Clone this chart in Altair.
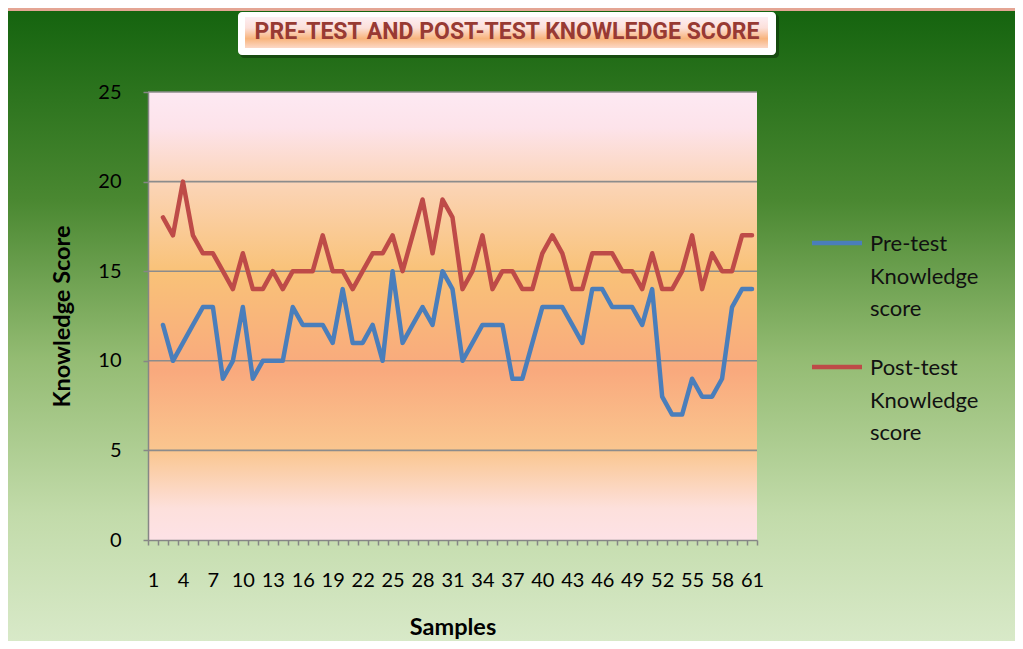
import altair as alt
import pandas as pd

# ---------------- data ----------------
TITLE = "PRE-TEST AND POST-TEST KNOWLEDGE SCORE"
X_TITLE = "Samples"
Y_TITLE = "Knowledge Score"
SERIES = ["Pre-test Knowledge score", "Post-test Knowledge score"]
SAMPLES = list(range(1, 62))
PRE = [None,
       12, 10, 11, 12, 13, 13, 9, 10, 13, 9,
       10, 10, 10, 13, 12, 12, 12, 11, 14, 11,
       11, 12, 10, 15, 11, 12, 13, 12, 15, 14,
       10, 11, 12, 12, 12, 9, 9, 11, 13, 13,
       13, 12, 11, 14, 14, 13, 13, 13, 12, 14,
       8, 7, 7, 9, 8, 8, 9, 13, 14, 14]
POST = [None,
        18, 17, 20, 17, 16, 16, 15, 14, 16, 14,
        14, 15, 14, 15, 15, 15, 17, 15, 15, 14,
        15, 16, 16, 17, 15, 17, 19, 16, 19, 18,
        14, 15, 17, 14, 15, 15, 14, 14, 16, 17,
        16, 14, 14, 16, 16, 16, 15, 15, 14, 16,
        14, 14, 15, 17, 14, 16, 15, 15, 17, 17]
Y_TICKS = [0, 5, 10, 15, 20, 25]
GRID = [5, 10, 15, 20, 25]
COLORS = ["#4a7ebb", "#be4b48"]

W, H = 609, 448
PAD = {"left": 140, "top": 84, "right": 258, "bottom": 101}

df = pd.DataFrame({
    "Sample": SAMPLES * 2,
    "Series": [SERIES[0]] * len(SAMPLES) + [SERIES[1]] * len(SAMPLES),
    "Score": PRE + POST,
})
one = pd.DataFrame({"a": [0]})
grid_df = pd.DataFrame({"Score": GRID})

yscale = alt.Scale(domain=[0, 25], nice=False, zero=True)
xscale = alt.Scale(type="band", domain=SAMPLES, paddingInner=0, paddingOuter=0)

Y_AXIS = alt.Axis(
    title=Y_TITLE, values=Y_TICKS, grid=False, zindex=1,
    labelFont="Lato", labelFontSize=20, labelColor="#000000", labelPadding=22,
    tickSize=5, tickColor="#868686", tickWidth=1.5,
    domainColor="#868686", domainWidth=1.5,
    titleFont="Lato", titleFontWeight="bold", titleFontSize=23.5, titleColor="#000000",
    titleX=-86, titleY=H / 2, titleAngle=270, titleAlign="center", titleBaseline="middle",
)


def grad(stops):
    return alt.Gradient(
        gradient="linear", x1=0, x2=0, y1=0, y2=1,
        stops=[alt.GradientStop(color=c, offset=o) for o, c in stops],
    )


outer_bg = alt.Chart(one).mark_rect(
    fill=grad([(0, "#15640f"), (0.3, "#4a8831"), (0.55, "#93bb72"),
               (0.8, "#c2dbaa"), (1, "#d8e9c8")])
).encode(
    x=alt.value(-PAD["left"]), x2=alt.value(W + PAD["right"]),
    y=alt.value(-PAD["top"] + 3), y2=alt.value(H + PAD["bottom"]),
)

plot_bg = alt.Chart(one).mark_rect(
    fill=grad([(0, "#fde9f3"), (0.08, "#fde3ea"), (0.22, "#fbd3b2"),
               (0.4, "#f9c278"), (0.62, "#f9a97d"), (0.8, "#fac68f"),
               (0.93, "#fde0dc"), (1, "#fde2e6")])
).encode(x=alt.value(0), x2=alt.value(W), y=alt.value(0), y2=alt.value(H))

grid = alt.Chart(grid_df).mark_rule(color="#8c8c8c", strokeWidth=1.6).encode(
    y=alt.Y("Score:Q", scale=yscale, axis=Y_AXIS),
    x=alt.value(0), x2=alt.value(W),
)

lines = alt.Chart(df).mark_line(strokeWidth=4.5, strokeJoin="round", strokeCap="round").encode(
    x=alt.X(
        "Sample:O", scale=xscale, bandPosition=0.5,
        axis=alt.Axis(
            title=X_TITLE, tickBand="extent", labelAngle=0, labelOverlap=False,
            labelExpr="(datum.value - 1) % 3 == 0 ? datum.label : ''",
            labelFont="Lato", labelFontSize=20, labelColor="#000000", labelPadding=25,
            tickSize=5, tickColor="#868686", tickWidth=1.5,
            domainColor="#868686", domainWidth=1.5, grid=False, zindex=1,
            titleFont="Lato", titleFontWeight="bold", titleFontSize=23.5, titleColor="#000000",
            titleX=W / 2, titleY=87, titleAlign="center", titleBaseline="middle",
        ),
    ),
    y=alt.Y("Score:Q", scale=yscale, axis=Y_AXIS),
    color=alt.Color("Series:N", scale=alt.Scale(domain=SERIES, range=COLORS), legend=None),
)

# title box
title_shadow = alt.Chart(one).mark_rect(fill="#000000", opacity=0.3, cornerRadius=4).encode(
    x=alt.value(92), x2=alt.value(631), y=alt.value(-78), y2=alt.value(-34))
title_box = alt.Chart(one).mark_rect(fill="#ffffff", cornerRadius=4).encode(
    x=alt.value(90), x2=alt.value(628), y=alt.value(-80), y2=alt.value(-37))
title_inner = alt.Chart(one).mark_rect(
    fill=grad([(0, "#fdeef3"), (0.35, "#fce0da"), (0.7, "#f8b47c"), (1, "#fcd8c6")])
).encode(x=alt.value(97), x2=alt.value(620), y=alt.value(-75), y2=alt.value(-44))
title_text = alt.Chart(one).mark_text(
    font="Roboto", fontWeight="bold", fontSize=23, color="#983a33",
    align="center", baseline="middle",
).encode(x=alt.value(359), y=alt.value(-60), text=alt.value(TITLE))

# legend
leg = []
for i, (name, col) in enumerate(zip(SERIES, COLORS)):
    yc = 151 + i * 124
    leg.append(alt.Chart(one).mark_rule(color=col, strokeWidth=4.5).encode(
        x=alt.value(664), x2=alt.value(714), y=alt.value(yc)))
    leg.append(alt.Chart(one).mark_text(
        font="Lato", fontSize=22, color="#111111", align="left",
        baseline="alphabetic", lineHeight=32.5,
    ).encode(x=alt.value(722), y=alt.value(yc + 8), text=alt.value(name.split(" "))))

chart = alt.layer(
    outer_bg, plot_bg, grid, lines,
    title_shadow, title_box, title_inner, title_text, *leg,
).resolve_scale(color="independent").properties(
    width=W, height=H, padding=PAD,
    autosize=alt.AutoSizeParams(type="none"),
    background="#e4a594",
).configure_view(stroke=None)

chart.save("out.html", embed_options={"renderer": "svg", "actions": False})
